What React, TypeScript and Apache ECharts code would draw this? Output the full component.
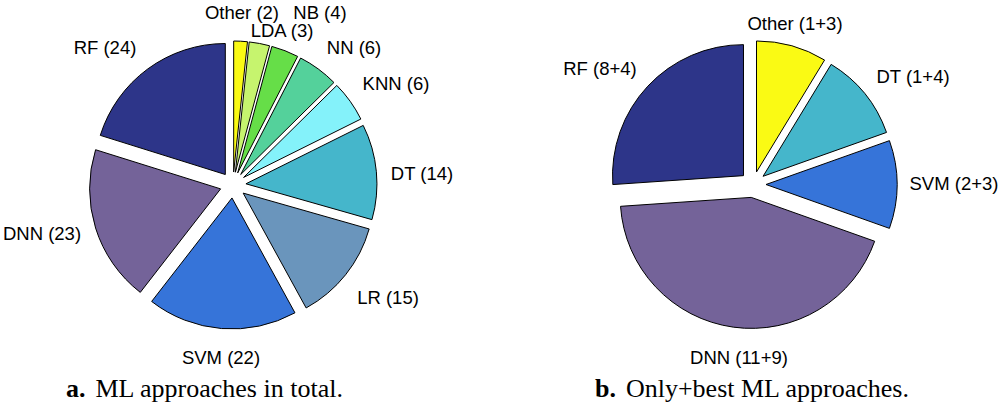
import React, { useEffect, useRef } from "react";
import * as echarts from "echarts";

// ---- data: a. ML approaches in total ----
const totalCategories = ["Other", "LDA", "NB", "NN", "KNN", "DT", "LR", "SVM", "DNN", "RF"];
const totalValues = [2, 3, 4, 6, 6, 14, 15, 22, 23, 24];
const totalColors = ["#FAFA14", "#C6F46E", "#66DE48", "#54D19B", "#84F2FA", "#45B6CB", "#6A95BC", "#3674D9", "#746399", "#2D3589"];

// ---- data: b. Only+best ML approaches ----
const bestCategories = ["Other", "DT", "SVM", "DNN", "RF"];
const bestOnly = [1, 1, 2, 11, 8];
const bestBest = [3, 4, 3, 9, 4];
const bestColors = ["#FAFA14", "#45B6CB", "#3674D9", "#746399", "#2D3589"];

// captions
const captionA = ["a.", "ML approaches in total."];
const captionB = ["b.", "Only+best ML approaches."];

// ---- layout (label centres, px) ----
const totalLabelPos: [number, number][] = [
  [242, 12], [282, 30], [320, 12], [354, 47], [396, 83],
  [422, 173], [388, 297], [221, 357], [42, 233], [105, 47],
];
const bestLabelPos: [number, number][] = [
  [795, 23], [913, 76], [954, 183], [739, 357], [600, 68],
];

const SANS = "'Liberation Sans', Arial, Helvetica, sans-serif";
const SERIF = "'Liberation Serif', 'Times New Roman', serif";

function slices(names: string[], values: number[], colors: string[], center: [number, number]) {
  return {
    type: "pie",
    center,
    radius: 131,
    startAngle: 90,
    clockwise: true,
    selectedMode: "multiple",
    selectedOffset: 13,
    silent: true,
    label: { show: false },
    labelLine: { show: false },
    itemStyle: { borderColor: "#000", borderWidth: 1 },
    emphasis: { disabled: true },
    data: names.map((n, i) => ({
      name: n,
      value: values[i],
      selected: true,
      itemStyle: { color: colors[i] },
    })),
  };
}

function labelLayer(
  names: string[],
  values: number[],
  labels: string[],
  center: [number, number],
  pos: [number, number][]
) {
  return {
    type: "pie",
    center,
    radius: 131,
    startAngle: 90,
    clockwise: true,
    selectedMode: false,
    avoidLabelOverlap: false,
    silent: true,
    z: 3,
    label: {
      show: true,
      position: "outside",
      formatter: (p: any) => labels[p.dataIndex],
      fontFamily: SANS,
      fontSize: 18.5,
      color: "#000",
    },
    labelLine: { show: false },
    labelLayout: (p: any) => ({
      x: pos[p.dataIndex][0],
      y: pos[p.dataIndex][1],
      align: "center",
      verticalAlign: "middle",
    }),
    itemStyle: { color: "rgba(0,0,0,0)", borderWidth: 0 },
    emphasis: { disabled: true },
    data: names.map((n, i) => ({ name: n, value: values[i] })),
  };
}

export default function App() {
  const ref = useRef<HTMLDivElement>(null);
  useEffect(() => {
    if (!ref.current) return;
    const chart = echarts.init(ref.current, undefined, { renderer: "svg" });
    const totalLabels = totalCategories.map((c, i) => `${c} (${totalValues[i]})`);
    const bestValues = bestOnly.map((o, i) => o + bestBest[i]);
    const bestLabels = bestCategories.map((c, i) => `${c} (${bestOnly[i]}+${bestBest[i]})`);
    const rich = {
      b: { fontFamily: SERIF, fontSize: 26, fontWeight: "bold", color: "#000", padding: [0, 10, 0, 0] },
      t: { fontFamily: SERIF, fontSize: 26, fontWeight: "normal", color: "#000" },
    };
    chart.setOption({
      animation: false,
      backgroundColor: "#fff",
      title: [
        {
          text: `{b|${captionA[0]}}{t|${captionA[1]}}`,
          left: 66,
          top: 375,
          padding: 0,
          textStyle: { fontWeight: "normal", fontFamily: SERIF, fontSize: 26, rich },
        },
        {
          text: `{b|${captionB[0]}}{t|${captionB[1]}}`,
          left: 595,
          top: 375,
          padding: 0,
          textStyle: { fontWeight: "normal", fontFamily: SERIF, fontSize: 26, rich },
        },
      ],
      series: [
        slices(totalCategories, totalValues, totalColors, [233, 185]),
        slices(bestCategories, bestValues, bestColors, [753, 184.5]),
        labelLayer(totalCategories, totalValues, totalLabels, [233, 185], totalLabelPos),
        labelLayer(bestCategories, bestValues, bestLabels, [753, 184.5], bestLabelPos),
      ],
    });
    return () => chart.dispose();
  }, []);
  return (
    <div
      ref={ref}
      style={{ position: "absolute", left: 0, top: 0, width: 1002, height: 407, background: "#fff" }}
    />
  );
}
